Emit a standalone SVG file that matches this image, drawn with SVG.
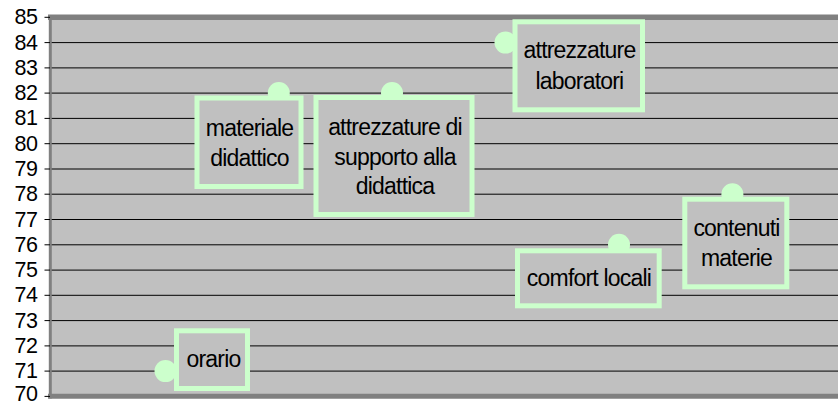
<svg xmlns="http://www.w3.org/2000/svg" width="838" height="405" viewBox="0 0 838 405">
<style>
.ax{font-family:"Liberation Sans",Arial,sans-serif;font-size:21.5px;letter-spacing:-0.4px;fill:#000;text-anchor:end}
.lb{font-family:"Liberation Sans",Arial,sans-serif;font-size:23px;letter-spacing:-0.8px;fill:#000;text-anchor:middle}
.grid line{stroke:#000;stroke-width:1}
.tick line{stroke:#000;stroke-width:1}
.box{fill:#c0c0c0;stroke:#ccffcc;stroke-width:5}
.dot{fill:#ccffcc}
</style>
<rect x="0" y="0" width="838" height="405" fill="#fff"/>
<g id="plot">
<rect x="51" y="17.3" width="800" height="379" fill="#c0c0c0"/>
<g class="grid">
<line x1="51" y1="42.6" x2="838" y2="42.6"/>
<line x1="51" y1="67.9" x2="838" y2="67.9"/>
<line x1="51" y1="93.1" x2="838" y2="93.1"/>
<line x1="51" y1="118.4" x2="838" y2="118.4"/>
<line x1="51" y1="143.7" x2="838" y2="143.7"/>
<line x1="51" y1="169" x2="838" y2="169"/>
<line x1="51" y1="194.2" x2="838" y2="194.2"/>
<line x1="51" y1="219.5" x2="838" y2="219.5"/>
<line x1="51" y1="244.8" x2="838" y2="244.8"/>
<line x1="51" y1="270.1" x2="838" y2="270.1"/>
<line x1="51" y1="295.3" x2="838" y2="295.3"/>
<line x1="51" y1="320.6" x2="838" y2="320.6"/>
<line x1="51" y1="345.9" x2="838" y2="345.9"/>
<line x1="51" y1="371.1" x2="838" y2="371.1"/>
</g>
<line x1="48" y1="17.3" x2="838" y2="17.3" stroke="#808080" stroke-width="5.5"/>
<line x1="48" y1="396.3" x2="838" y2="396.3" stroke="#808080" stroke-width="5"/>
<line x1="50.3" y1="15" x2="50.3" y2="398.5" stroke="#808080" stroke-width="3"/>
</g>
<g id="y-axis">
<g class="tick">
<line x1="44.5" y1="17.3" x2="50" y2="17.3"/>
<line x1="44.5" y1="42.6" x2="50" y2="42.6"/>
<line x1="44.5" y1="67.9" x2="50" y2="67.9"/>
<line x1="44.5" y1="93.1" x2="50" y2="93.1"/>
<line x1="44.5" y1="118.4" x2="50" y2="118.4"/>
<line x1="44.5" y1="143.7" x2="50" y2="143.7"/>
<line x1="44.5" y1="169" x2="50" y2="169"/>
<line x1="44.5" y1="194.2" x2="50" y2="194.2"/>
<line x1="44.5" y1="219.5" x2="50" y2="219.5"/>
<line x1="44.5" y1="244.8" x2="50" y2="244.8"/>
<line x1="44.5" y1="270.1" x2="50" y2="270.1"/>
<line x1="44.5" y1="295.3" x2="50" y2="295.3"/>
<line x1="44.5" y1="320.6" x2="50" y2="320.6"/>
<line x1="44.5" y1="345.9" x2="50" y2="345.9"/>
<line x1="44.5" y1="371.1" x2="50" y2="371.1"/>
<line x1="44.5" y1="396.4" x2="50" y2="396.4"/>
</g>
<text class="ax" x="37.5" y="24.3">85</text>
<text class="ax" x="37.5" y="49.6">84</text>
<text class="ax" x="37.5" y="74.9">83</text>
<text class="ax" x="37.5" y="100.1">82</text>
<text class="ax" x="37.5" y="125.4">81</text>
<text class="ax" x="37.5" y="150.7">80</text>
<text class="ax" x="37.5" y="176">79</text>
<text class="ax" x="37.5" y="201.2">78</text>
<text class="ax" x="37.5" y="226.5">77</text>
<text class="ax" x="37.5" y="251.8">76</text>
<text class="ax" x="37.5" y="277.1">75</text>
<text class="ax" x="37.5" y="302.3">74</text>
<text class="ax" x="37.5" y="327.6">73</text>
<text class="ax" x="37.5" y="352.9">72</text>
<text class="ax" x="37.5" y="378.1">71</text>
<text class="ax" x="37.5" y="401">70</text>
</g>
<g id="orario">
<circle class="dot" cx="165.5" cy="371.1" r="11"/>
<rect class="box" x="176.5" y="330.8" width="71" height="57.7"/>
<text class="lb" x="213.5" y="366.7">orario</text>
</g>
<g id="materiale-didattico">
<circle class="dot" cx="278.8" cy="93.1" r="11"/>
<rect class="box" x="197" y="98" width="104" height="88.5"/>
<text class="lb" x="249.5" y="135.5">materiale</text>
<text class="lb" x="249.5" y="166">didattico</text>
</g>
<g id="attrezzature-supporto">
<circle class="dot" cx="392" cy="93.1" r="11"/>
<rect class="box" x="316" y="97.5" width="156" height="117"/>
<text class="lb" x="395" y="135">attrezzature di</text>
<text class="lb" x="395" y="164.5">supporto alla</text>
<text class="lb" x="395" y="194">didattica</text>
</g>
<g id="attrezzature-laboratori">
<circle class="dot" cx="505.5" cy="42.6" r="11"/>
<rect class="box" x="515" y="21.8" width="127.5" height="88"/>
<text class="lb" x="579.5" y="58">attrezzature</text>
<text class="lb" x="579.5" y="88.5">laboratori</text>
</g>
<g id="comfort-locali">
<circle class="dot" cx="619" cy="244.8" r="11"/>
<rect class="box" x="517.5" y="250.8" width="141.7" height="55"/>
<text class="lb" x="589" y="285.5">comfort locali</text>
</g>
<g id="contenuti-materie">
<circle class="dot" cx="732.4" cy="194.2" r="11"/>
<rect class="box" x="684.8" y="199.2" width="102" height="87.6"/>
<text class="lb" x="736.5" y="235.5">contenuti</text>
<text class="lb" x="736.5" y="266">materie</text>
</g>
</svg>
